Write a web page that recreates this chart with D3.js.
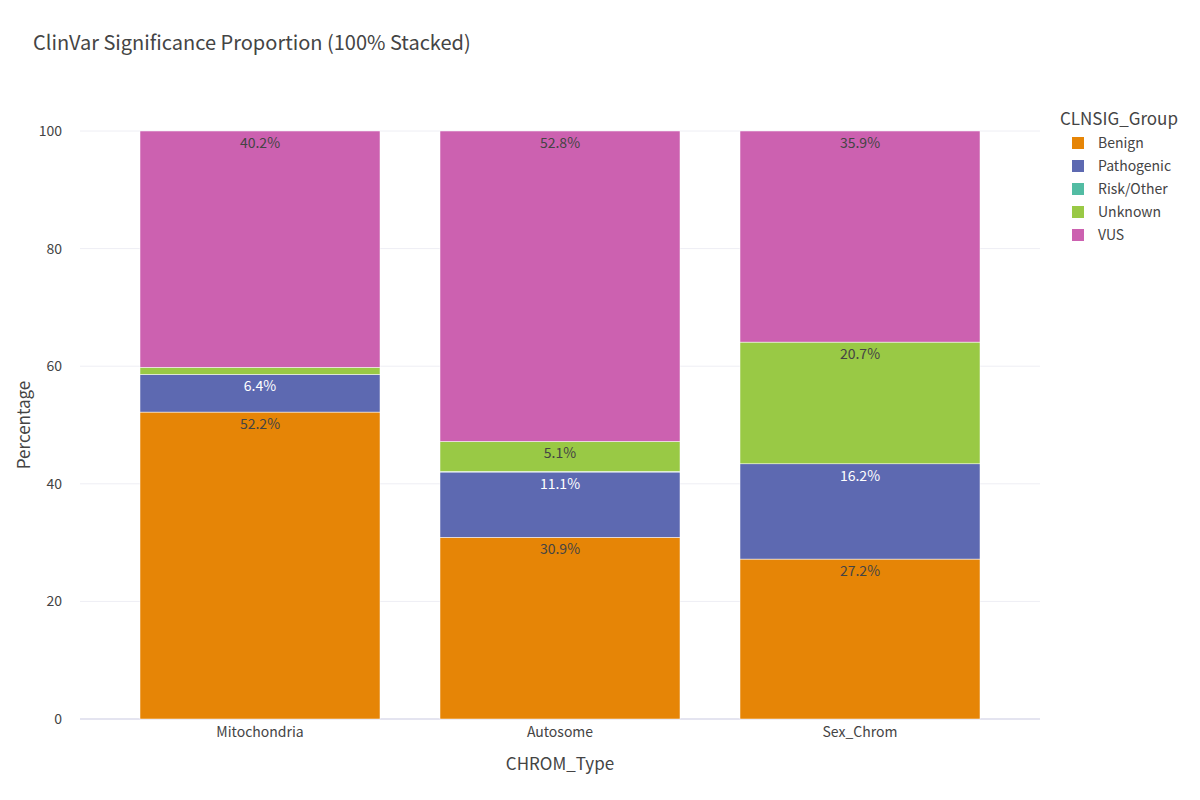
<!DOCTYPE html>
<html><head><meta charset="utf-8">
<script src="https://cdn.jsdelivr.net/npm/d3@7"></script>
<style>body{margin:0;background:#fff}text{font-family:"Noto Sans CJK KR","Noto Sans",sans-serif}</style>
</head><body><div class="chart"></div>
<script>
let categories = ["Mitochondria", "Autosome", "Sex_Chrom"]
let groups = ["Benign", "Pathogenic", "Risk/Other", "Unknown", "VUS"]
let colors = ["#e68506", "#5d69b1", "#52bca3", "#99c945", "#cc61b0"]
let benign = [52.2, 30.9, 27.2]
let pathogenic = [6.4, 11.1, 16.2]
let riskOther = [0.0, 0.1, 0.0]
let unknown = [1.2, 5.1, 20.7]
let vus = [40.2, 52.8, 35.9]
let yTicks = [0, 20, 40, 60, 80, 100]

let series = [benign, pathogenic, riskOther, unknown, vus]
let rows = categories.map((c, i) => {
    let r = {cat: c}
    groups.forEach((g, j) => r[g] = series[j][i])
    return r
})

let margin = {left: 80, right: 160, top: 131, bottom: 81}
let width = 1200 - margin.left - margin.right
let height = 800 - margin.top - margin.bottom

let svg = d3.select(".chart").append("svg").attr("width", 1200).attr("height", 800)
svg.append("text").attr("x", 33).attr("y", 50).attr("font-size", 20).attr("fill", "#444")
    .text("ClinVar Significance Proportion (100% Stacked)")

let g = svg.append("g").attr("transform", "translate(" + margin.left + "," + margin.top + ")")

let x = d3.scaleBand().domain(categories).range([0, width]).padding(0.2)
let y = d3.scaleLinear().domain([0, 100]).range([height, 0])

//grid + y axis
yTicks.forEach(t => {
    g.append("line").attr("x1", 0).attr("x2", width).attr("y1", y(t)).attr("y2", y(t))
        .attr("stroke", t == 0 ? "#e4e4f0" : "#eeeef4").attr("stroke-width", t == 0 ? 2 : 1)
    g.append("text").attr("x", -18).attr("y", y(t)).attr("dy", "0.35em").attr("text-anchor", "end")
        .attr("font-size", 14).attr("fill", "#444").text(t)
})
categories.forEach(c => {
    g.append("text").attr("x", x(c) + x.bandwidth() / 2).attr("y", height + 18).attr("text-anchor", "middle")
        .attr("font-size", 14).attr("fill", "#444").text(c)
})
svg.append("text").attr("x", margin.left + width / 2).attr("y", 770).attr("text-anchor", "middle")
    .attr("font-size", 17).attr("fill", "#444").text("CHROM_Type")
svg.append("text").attr("transform", "translate(30," + (margin.top + height / 2) + ") rotate(-90)")
    .attr("text-anchor", "middle").attr("font-size", 17).attr("fill", "#444").text("Percentage")

let stack = d3.stack().keys(groups)(rows)
stack.forEach((layer, j) => {
    layer.forEach(d => {
        let h = y(d[0]) - y(d[1])
        if (h <= 0) return
        g.append("rect").attr("x", x(d.data.cat)).attr("width", x.bandwidth())
            .attr("y", y(d[1])).attr("height", h).attr("fill", colors[j])
            .attr("stroke", "#fff").attr("stroke-width", 0.5)
        if (h > 18) {
            g.append("text").attr("x", x(d.data.cat) + x.bandwidth() / 2).attr("y", y(d[1]) + 17)
                .attr("text-anchor", "middle").attr("font-size", 14)
                .attr("fill", j == 1 ? "#fff" : "#444").text(d.data[groups[j]].toFixed(1) + "%")
        }
    })
})

//legend
let lg = svg.append("g").attr("transform", "translate(1060,0)")
lg.append("text").attr("x", 0).attr("y", 125).attr("font-size", 17).attr("fill", "#444").text("CLNSIG_Group")
groups.forEach((k, i) => {
    lg.append("rect").attr("x", 12).attr("y", 137 + i * 23).attr("width", 12).attr("height", 12).attr("fill", colors[i])
    lg.append("text").attr("x", 38).attr("y", 143 + i * 23).attr("dy", "0.35em").attr("font-size", 14)
        .attr("fill", "#444").text(k)
})
</script></body></html>
